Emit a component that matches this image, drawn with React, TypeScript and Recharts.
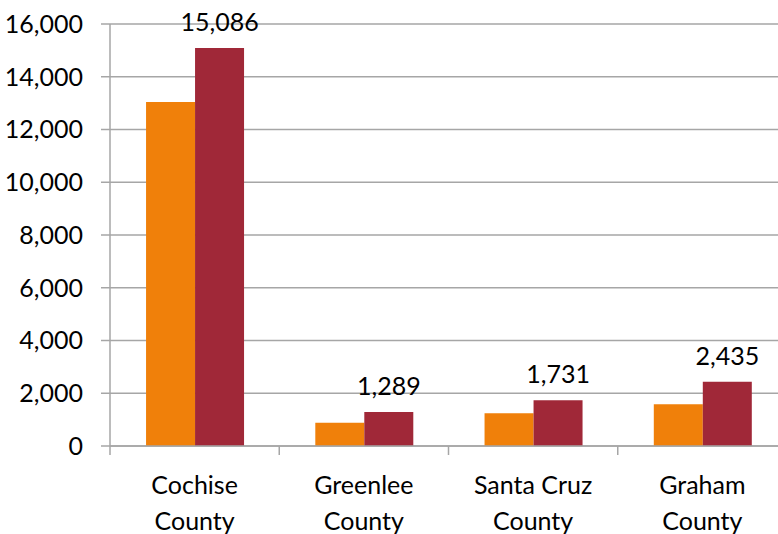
import React from 'react';
import { BarChart, Bar, XAxis, YAxis, CartesianGrid, LabelList } from 'recharts';

const counties = ['Cochise County', 'Greenlee County', 'Santa Cruz County', 'Graham County'];
const seriesA = [13040, 880, 1240, 1580];
const seriesB = [15086, 1289, 1731, 2435];
const yTicks = [0, 2000, 4000, 6000, 8000, 10000, 12000, 14000, 16000];

const FONT = 'Lato, "Open Sans", sans-serif';
const AXIS_GRAY = '#A6A6A6';
const FONT_SIZE = 25;

const fmt = (v: number) => v.toLocaleString('en-US');

function CountyTick(props: any) {
    const { x, y, payload, index } = props;
    const name: string = payload.value;
    const cut = name.lastIndexOf(' ');
    const first = name.slice(0, cut);
    const second = name.slice(cut + 1);
    const half = payload.offset || 84.5;
    return (
        <g>
            <line x1={x - half} x2={x - half} y1={y} y2={y + 9} stroke={AXIS_GRAY} strokeWidth={1.5} />
            {index === counties.length - 1 && (
                <line x1={x + half} x2={x + half} y1={y} y2={y + 9} stroke={AXIS_GRAY} strokeWidth={1.5} />
            )}
            <text x={x} y={y + 48} textAnchor="middle" fill="#000" fontSize={FONT_SIZE} fontFamily={FONT}>
                {first}
            </text>
            <text x={x} y={y + 84} textAnchor="middle" fill="#000" fontSize={FONT_SIZE} fontFamily={FONT}>
                {second}
            </text>
        </g>
    );
}

export default function App() {
    const data = counties.map((county, i) => ({
        county,
        a: seriesA[i],
        b: seriesB[i],
    }));

    return (
        <div style={{ position: 'absolute', left: 0, top: 0, width: 778, height: 534, overflow: 'hidden', background: '#fff' }}>
            <BarChart
                width={790}
                height={534}
                data={data}
                margin={{ top: 24, right: 3, bottom: 0, left: 0 }}
                barCategoryGap="21.3%"
                barGap={0}
            >
                <CartesianGrid vertical={false} stroke={AXIS_GRAY} strokeWidth={1.5} />
                <XAxis
                    dataKey="county"
                    height={88}
                    interval={0}
                    tickLine={false}
                    tickSize={0}
                    tickMargin={0}
                    axisLine={{ stroke: AXIS_GRAY, strokeWidth: 1.5 }}
                    tick={<CountyTick />}
                />
                <YAxis
                    width={110}
                    domain={[0, 16000]}
                    ticks={yTicks}
                    interval={0}
                    tickFormatter={fmt}
                    tickSize={9}
                    tickMargin={18}
                    axisLine={{ stroke: AXIS_GRAY, strokeWidth: 1.5 }}
                    tickLine={{ stroke: AXIS_GRAY, strokeWidth: 1.5 }}
                    tick={{ fill: '#000', fontSize: FONT_SIZE, fontFamily: FONT }}
                />
                <Bar dataKey="a" fill="#F0800A" isAnimationActive={false} />
                <Bar dataKey="b" fill="#A02838" isAnimationActive={false}>
                    <LabelList
                        dataKey="b"
                        position="top"
                        offset={17}
                        formatter={(v: any) => fmt(Number(v))}
                        fill="#000"
                        fontSize={FONT_SIZE}
                        fontFamily={FONT}
                    />
                </Bar>
            </BarChart>
        </div>
    );
}
